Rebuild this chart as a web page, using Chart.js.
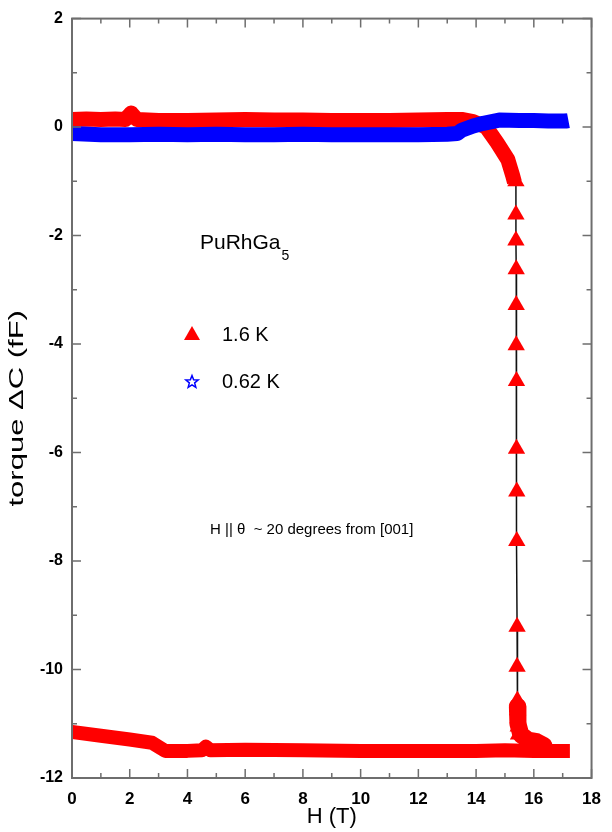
<!DOCTYPE html>
<html>
<head>
<meta charset="utf-8">
<script src="https://cdn.jsdelivr.net/npm/chart.js@4.4.1/dist/chart.umd.min.js"></script>
<style>
  body { margin: 0; background: #fff; }
  #wrap { width: 612px; height: 832px; }
</style>
</head>
<body>
<div id="wrap"><canvas id="myChart" width="612" height="832"></canvas></div>
<script>
// 1.6 K sweep up (upper branch, bends down before the jump)
const fieldUp16 = [0, 0.5, 1, 1.5, 1.85, 2.05, 2.25, 3, 4, 5, 6, 7, 8, 9, 10, 11, 12, 13, 13.5, 13.9, 14.35, 14.73, 15.1, 15.27, 15.33];
const torqueUp16 = [0.14, 0.15, 0.14, 0.15, 0.14, 0.26, 0.14, 0.12, 0.12, 0.13, 0.14, 0.13, 0.13, 0.12, 0.12, 0.12, 0.13, 0.14, 0.14, 0.1, 0.0, -0.29, -0.6, -0.9, -1.02];

// 1.6 K jump, sparse points joined by a line
const fieldJump16 = [15.38, 15.38, 15.38, 15.39, 15.39, 15.39, 15.4, 15.4, 15.41, 15.41, 15.42, 15.42, 15.43, 15.44, 15.45, 15.46, 15.47];
const torqueJump16 = [-1.0, -1.61, -2.09, -2.62, -3.28, -4.02, -4.68, -5.93, -6.72, -7.63, -9.21, -9.95, -10.57, -10.75, -10.9, -11.05, -11.2];

// dense pile-up at the foot of the jump
const fieldFoot16 = [15.43, 15.45, 15.55, 15.8, 16.1, 16.35];
const torqueFoot16 = [-10.68, -11.0, -11.2, -11.3, -11.33, -11.4];

// 1.6 K lower branch
const fieldDown16 = [0, 1, 2, 2.77, 3.23, 4, 4.5, 4.64, 4.8, 6, 8, 10, 12, 14, 15, 16, 17, 17.25];
const torqueDown16 = [-11.15, -11.22, -11.29, -11.35, -11.5, -11.5, -11.49, -11.42, -11.49, -11.48, -11.49, -11.5, -11.5, -11.5, -11.49, -11.5, -11.5, -11.5];

// 0.62 K
const field062 = [0, 1, 2, 3, 4, 5, 6, 7, 8, 9, 10, 11, 12, 13, 13.35, 13.5, 13.9, 14.25, 14.8, 15.5, 16, 16.5, 17.1, 17.2];
const torque062 = [-0.12, -0.14, -0.14, -0.13, -0.14, -0.13, -0.14, -0.14, -0.13, -0.14, -0.14, -0.14, -0.14, -0.13, -0.12, -0.06, 0.02, 0.07, 0.13, 0.12, 0.12, 0.11, 0.11, 0.12];

const xTicks = [0, 2, 4, 6, 8, 10, 12, 14, 16, 18];
const yTicks = [2, 0, -2, -4, -6, -8, -10, -12];

const pts = (xs, ys) => xs.map((x, i) => ({ x: x, y: ys[i] }));

const RED = "rgb(255, 0, 0)";
const BLUE = "rgb(0, 0, 255)";
const FONT = "'Liberation Sans', Arial, sans-serif";

function star(ctx, cx, cy, ro, ri) {
  ctx.beginPath();
  for (let i = 0; i < 10; i++) {
    const r = i % 2 ? ri : ro;
    const a = -Math.PI / 2 + i * Math.PI / 5;
    ctx.lineTo(cx + r * Math.cos(a), cy + r * Math.sin(a));
  }
  ctx.closePath();
}

// frame with inward ticks + text labels on the plot
const framePlugin = {
  id: "frame",
  afterDraw(chart) {
    const { ctx, chartArea: a, scales } = chart;
    const sx = scales.x, sy = scales.y;
    ctx.save();
    ctx.strokeStyle = "#6e6e6e";
    ctx.lineWidth = 2;
    ctx.strokeRect(a.left, a.top, a.right - a.left, a.bottom - a.top);
    ctx.lineWidth = 1.5;
    ctx.beginPath();
    for (let v = 0; v <= 18; v++) {
      const len = v % 2 === 0 ? 9 : 5;
      const px = sx.getPixelForValue(v);
      ctx.moveTo(px, a.bottom); ctx.lineTo(px, a.bottom - len);
      ctx.moveTo(px, a.top); ctx.lineTo(px, a.top + len);
    }
    for (let v = -12; v <= 2; v++) {
      const len = v % 2 === 0 ? 9 : 5;
      const py = sy.getPixelForValue(v);
      ctx.moveTo(a.left, py); ctx.lineTo(a.left + len, py);
      ctx.moveTo(a.right, py); ctx.lineTo(a.right - len, py);
    }
    ctx.stroke();

    // y axis title, drawn stretched like the original figure
    ctx.save();
    ctx.fillStyle = "#000";
    ctx.textAlign = "center";
    ctx.textBaseline = "middle";
    ctx.translate(17, (a.top + a.bottom) / 2 + 10);
    ctx.rotate(-Math.PI / 2);
    ctx.scale(1.55, 1);
    ctx.font = "20px " + FONT;
    ctx.fillText("torque \u0394C (fF)", 0, 0);
    ctx.restore();

    // sample name
    ctx.fillStyle = "#000";
    ctx.textBaseline = "middle";
    ctx.font = "21px " + FONT;
    ctx.fillText("PuRhGa", 200, 243);
    const w = ctx.measureText("PuRhGa").width;
    ctx.font = "14px " + FONT;
    ctx.fillText("5", 200 + w + 1, 256);

    // legend
    ctx.fillStyle = RED;
    ctx.beginPath();
    ctx.moveTo(192, 326); ctx.lineTo(200, 340); ctx.lineTo(184, 340);
    ctx.closePath();
    ctx.fill();
    ctx.strokeStyle = BLUE;
    ctx.lineWidth = 1.5;
    star(ctx, 192, 382, 6.5, 2.8);
    ctx.stroke();
    ctx.fillStyle = "#000";
    ctx.font = "20px " + FONT;
    ctx.fillText("1.6 K", 222, 335);
    ctx.fillText("0.62 K", 222, 382);

    ctx.font = "15px " + FONT;
    ctx.fillText("H || \u03B8  ~ 20 degrees from [001]", 210, 530);
    ctx.restore();
  },
};

const ctx = document.getElementById("myChart");
let myChart = new Chart(ctx, {
  type: "line",
  data: {
    datasets: [
      {
        label: "1.6 K jump",
        data: pts(fieldJump16, torqueJump16),
        borderColor: "#111",
        borderWidth: 1.5,
        pointStyle: "triangle",
        pointRadius: 10,
        pointBackgroundColor: RED,
        pointBorderColor: RED,
        pointBorderWidth: 0,
        order: 0,
      },
      {
        label: "0.62 K",
        data: pts(field062, torque062),
        borderColor: BLUE,
        borderWidth: 15,
        borderCapStyle: "butt",
        borderJoinStyle: "round",
        pointRadius: 0,
        order: 1,
      },
      {
        label: "1.6 K up",
        data: pts(fieldUp16, torqueUp16),
        borderColor: RED,
        borderWidth: 15,
        borderCapStyle: "butt",
        borderJoinStyle: "round",
        pointRadius: 0,
        order: 2,
      },
      {
        label: "1.6 K foot",
        data: pts(fieldFoot16, torqueFoot16),
        borderColor: RED,
        borderWidth: 17,
        borderCapStyle: "round",
        borderJoinStyle: "round",
        pointRadius: 0,
        order: 2,
      },
      {
        label: "1.6 K down",
        data: pts(fieldDown16, torqueDown16),
        borderColor: RED,
        borderWidth: 14,
        borderCapStyle: "butt",
        borderJoinStyle: "round",
        pointRadius: 0,
        order: 2,
      },
    ],
  },
  options: {
    responsive: false,
    animation: false,
    layout: { padding: { top: 15, right: 12, left: 0, bottom: 0 } },
    scales: {
      x: {
        type: "linear",
        min: 0,
        max: 18,
        afterFit: (s) => { s.height = 54; },
        afterBuildTicks: (s) => { s.ticks = xTicks.map((v) => ({ value: v })); },
        grid: { display: false, drawTicks: false },
        border: { display: false },
        ticks: { padding: 11, color: "#000", font: { family: FONT, size: 17, weight: "bold" } },
        title: { display: true, text: "H (T)", color: "#000", font: { family: FONT, size: 22 }, padding: { top: 0, bottom: 2 } },
      },
      y: {
        type: "linear",
        min: -12,
        max: 2,
        afterFit: (s) => { s.width = 72; },
        afterBuildTicks: (s) => { s.ticks = yTicks.map((v) => ({ value: v })); },
        grid: { display: false, drawTicks: false },
        border: { display: false },
        ticks: { padding: 9, color: "#000", font: { family: FONT, size: 16, weight: "bold" } },
        title: { display: false },
      },
    },
    plugins: {
      legend: { display: false },
      tooltip: { enabled: false },
    },
  },
  plugins: [framePlugin],
});
</script>
</body>
</html>
